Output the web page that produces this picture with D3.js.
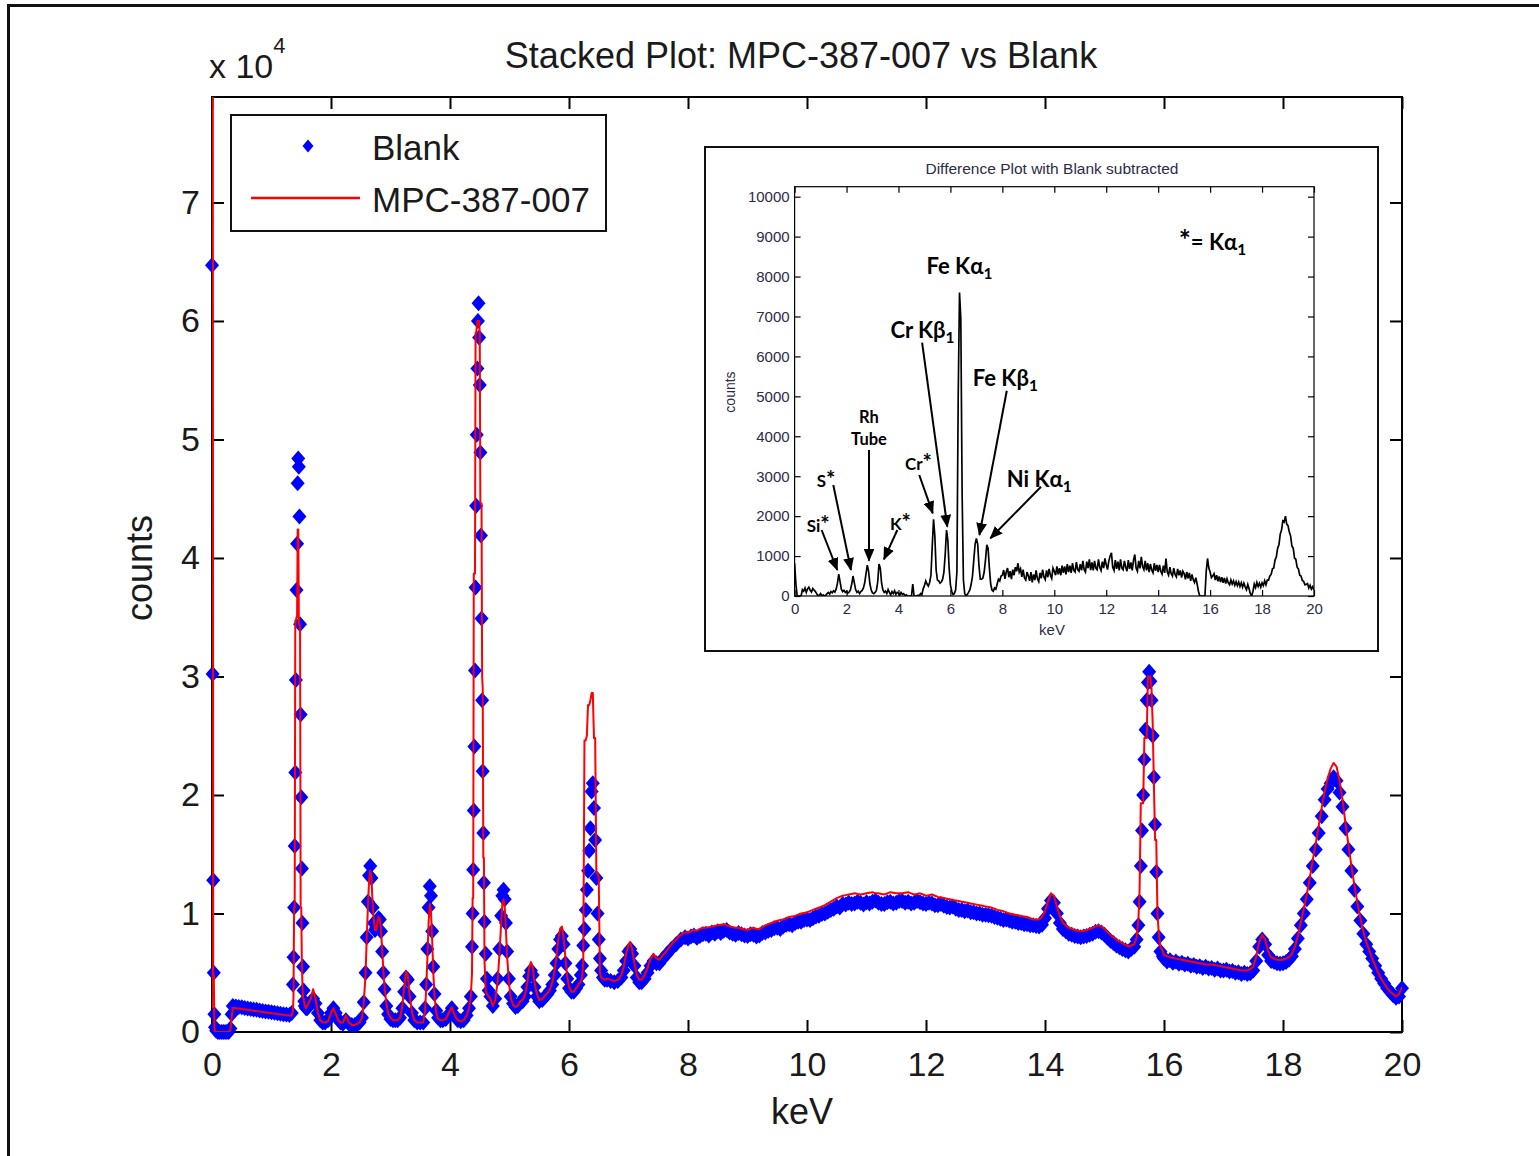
<!DOCTYPE html>
<html>
<head>
<meta charset="utf-8">
<script src="https://cdn.jsdelivr.net/npm/d3@7"></script>
<style>
  html, body { margin: 0; padding: 0; background: #fff; }
  svg { display: block; }
</style>
</head>
<body>
<svg id="chart" width="1539" height="1156"></svg>
<script>
// ---------------------------------------------------------------
// Main spectrum: energy (keV), blank counts, sample counts
// (non-uniform channel list: finer steps across the sharp lines)
// ---------------------------------------------------------------
const energyKeV = [
  0.00, 0.01, 0.02, 0.03, 0.04, 0.05, 0.07, 0.10, 0.13, 0.16, 0.19, 0.22, 0.25, 0.28, 0.31, 0.33,
  0.35, 0.40, 0.45, 0.50, 0.55, 0.60, 0.65, 0.70, 0.75, 0.80, 0.85, 0.90, 0.95, 1.00, 1.05, 1.10, 1.15, 1.20, 1.25, 1.30,
  1.34, 1.36, 1.37, 1.38, 1.39, 1.40, 1.41, 1.42, 1.43, 1.44, 1.45, 1.46, 1.47, 1.48, 1.49, 1.50, 1.51, 1.52, 1.53, 1.54, 1.55, 1.56, 1.58, 1.60,
  1.62, 1.66, 1.70, 1.74, 1.78, 1.82, 1.86, 1.90, 1.95, 2.00, 2.04, 2.08, 2.12, 2.16, 2.20, 2.25, 2.30, 2.35, 2.40, 2.45,
  2.48, 2.52, 2.55, 2.58, 2.60, 2.62, 2.64, 2.66, 2.68, 2.70, 2.72, 2.74, 2.76, 2.78, 2.80, 2.82, 2.84, 2.86, 2.88, 2.90, 2.93, 2.96, 3.00, 3.04, 3.08,
  3.12, 3.16, 3.20, 3.23, 3.26, 3.29, 3.32, 3.36, 3.40, 3.45, 3.50,
  3.55, 3.58, 3.60, 3.62, 3.64, 3.66, 3.68, 3.70, 3.72, 3.74, 3.77, 3.80, 3.84,
  3.88, 3.93, 3.98, 4.03, 4.08, 4.13, 4.18, 4.23, 4.28, 4.32,
  4.35, 4.37, 4.38, 4.39, 4.40, 4.41, 4.42, 4.43, 4.44, 4.45, 4.46, 4.47, 4.48, 4.49, 4.50, 4.51, 4.52, 4.53, 4.54, 4.55, 4.56, 4.57, 4.58, 4.60, 4.62, 4.65, 4.68,
  4.72, 4.76, 4.80, 4.83, 4.86, 4.88, 4.90, 4.92, 4.94, 4.96, 4.99, 5.02, 5.06, 5.10, 5.14, 5.18,
  5.22, 5.26, 5.30, 5.33, 5.36, 5.39, 5.42, 5.46, 5.50, 5.55, 5.60,
  5.64, 5.68, 5.72, 5.76, 5.79, 5.82, 5.85, 5.88, 5.91, 5.94, 5.97, 6.00, 6.04, 6.08, 6.12,
  6.16, 6.20, 6.22, 6.24, 6.26, 6.28, 6.30, 6.32, 6.34, 6.36, 6.38, 6.40, 6.42, 6.44, 6.46, 6.48, 6.50, 6.52, 6.54, 6.57, 6.60, 6.64,
  6.70, 6.76, 6.82, 6.88, 6.92, 6.96, 7.00, 7.03, 7.06, 7.10, 7.14, 7.18, 7.22, 7.27, 7.32, 7.37, 7.42, 7.47, 7.52, 7.58, 7.65, 7.72, 7.80, 7.88, 7.95,
  8.00, 8.05, 8.10, 8.15, 8.20, 8.25, 8.30, 8.35, 8.40, 8.45, 8.50, 8.55, 8.60, 8.65, 8.70, 8.75, 8.80, 8.85, 8.90, 8.95,
  9.00, 9.05, 9.10, 9.15, 9.20, 9.25, 9.30, 9.35, 9.40, 9.45, 9.50, 9.55, 9.60, 9.65, 9.70, 9.75, 9.80, 9.85, 9.90, 9.95,
  10.00, 10.05, 10.10, 10.15, 10.20, 10.25, 10.30, 10.35, 10.40, 10.45, 10.50, 10.55, 10.60, 10.65, 10.70, 10.75, 10.80, 10.85, 10.90, 10.95,
  11.00, 11.05, 11.10, 11.15, 11.20, 11.25, 11.30, 11.35, 11.40, 11.45, 11.50, 11.55, 11.60, 11.65, 11.70, 11.75, 11.80, 11.85, 11.90, 11.95,
  12.00, 12.05, 12.10, 12.15, 12.20, 12.25, 12.30, 12.35, 12.40, 12.45, 12.50, 12.55, 12.60, 12.65, 12.70, 12.75, 12.80, 12.85, 12.90, 12.95,
  13.00, 13.05, 13.10, 13.15, 13.20, 13.25, 13.30, 13.35, 13.40, 13.45, 13.50, 13.55, 13.60, 13.65, 13.70, 13.75, 13.80, 13.85, 13.90, 13.95,
  14.00, 14.05, 14.10, 14.15, 14.20, 14.25, 14.30, 14.35, 14.40, 14.45, 14.50, 14.55, 14.60, 14.65, 14.70, 14.75, 14.80, 14.85, 14.90, 14.95,
  15.00, 15.05, 15.10, 15.15, 15.20, 15.25, 15.30, 15.35, 15.40,
  15.45, 15.50, 15.54, 15.57, 15.59, 15.61, 15.63, 15.65, 15.67, 15.69, 15.71, 15.73, 15.75, 15.77, 15.79, 15.81, 15.83, 15.85, 15.87, 15.89, 15.91, 15.94, 15.98,
  16.00, 16.05, 16.10, 16.15, 16.20, 16.25, 16.30, 16.35, 16.40, 16.45, 16.50, 16.55, 16.60, 16.65, 16.70, 16.75, 16.80, 16.85, 16.90, 16.95,
  17.00, 17.05, 17.10, 17.15, 17.20, 17.25, 17.30, 17.35, 17.40, 17.45, 17.50, 17.55, 17.60, 17.65, 17.70, 17.75, 17.80, 17.85, 17.90, 17.95,
  18.00, 18.05, 18.10, 18.15, 18.20, 18.25, 18.30, 18.35, 18.40, 18.45, 18.50, 18.55, 18.60, 18.65, 18.70, 18.75, 18.80, 18.85, 18.90, 18.95,
  19.00, 19.05, 19.10, 19.15, 19.20, 19.25, 19.30, 19.35, 19.40, 19.45, 19.50, 19.55, 19.60, 19.65, 19.70, 19.75, 19.80, 19.85, 19.90, 19.95,
  20.00
];

const blankCounts = [
  64700, 30200, 12800, 5000, 1500, 400, 100, 0, 0, 0, 0, 0, 0, 0, 300, 1500,
  2200, 2150, 2120, 2080, 2030, 1990, 1950, 1900, 1870, 1820, 1780, 1740, 1700, 1660, 1620, 1580, 1540, 1500, 1470, 1440,
  1600, 4000, 6300, 10500, 15700, 21900, 29700, 37300, 41200, 46300, 48400, 47700, 43500, 34400, 26800, 19800, 13800, 9200, 5500, 3500, 2600, 2200, 2000, 2000,
  2200, 2500, 2800, 2400, 1600, 1000, 800, 800, 1000, 1600, 2000, 1600, 1100, 800, 700, 1000, 700, 600, 600, 700,
  800, 1200, 2500, 5000, 8000, 11000, 13200, 14000, 13000, 10500, 9200, 8600, 8800, 9300, 9600, 9500, 8500, 6800, 5000, 3600, 2200, 1500, 1100, 1000, 1000,
  1000, 1200, 2000, 3400, 4600, 4400, 3000, 1600, 1000, 800, 800,
  800, 2000, 4000, 7000, 10500, 12300, 11500, 8500, 5500, 3200, 1800, 1200, 1000,
  1000, 1100, 1500, 2000, 1400, 1000, 900, 1000, 1400, 2000,
  3000, 7200, 10000, 13700, 18700, 24100, 30500, 37500, 44400, 50400, 56000, 60000, 61500, 58600, 54600, 48900, 41900, 34900, 28000, 22000, 16800, 12600, 9300, 6600, 4500, 3500, 3000,
  2200, 2800, 4500, 7000, 9800, 11500, 12000, 11200, 9200, 6800, 4500, 3000, 2400, 2100, 2200, 2500,
  2600, 3000, 3800, 4700, 5200, 4800, 3800, 3000, 2600, 2700, 3000,
  3200, 3500, 4000, 4800, 5800, 7000, 7800, 8100, 7400, 5800, 4500, 3700, 3400, 3400, 3700,
  4000, 4800, 5600, 7300, 8700, 10300, 12000, 13600, 15300, 17200, 20300, 21000, 18900, 16200, 13000, 10000, 7800, 6200, 5200, 4600, 4400, 4400,
  4300, 4200, 4300, 4600, 5200, 6000, 6800, 7000, 6600, 5600, 4600, 4200, 4200, 4500, 5000, 5600, 6000, 5800, 5800, 6200, 6600, 7000, 7400, 7800, 8000,
  7900, 8050, 8150, 7950, 8100, 8250, 8300, 8150, 8400, 8300, 8500, 8350, 8550, 8600, 8400, 8300, 8200, 8350, 8250, 8150,
  8100, 8250, 8200, 8050, 8150, 8350, 8400, 8550, 8600, 8750, 8800, 8700, 8900, 9050, 9100, 9000, 9200, 9300, 9300, 9450,
  9500, 9450, 9600, 9750, 9800, 9950, 10000, 10150, 10300, 10400, 10600, 10500, 10800, 10750, 10900, 10800, 10850, 11000, 10900, 10750,
  10950, 10850, 11000, 11100, 10900, 10800, 10800, 10950, 11000, 10850, 10900, 11050, 11050, 10900, 11000, 10850, 10900, 11050, 10950, 10850,
  10800, 10900, 10850, 10700, 10700, 10800, 10650, 10550, 10500, 10600, 10400, 10300, 10300, 10200, 10250, 10100, 10100, 10000, 10000, 9900,
  9900, 9850, 9800, 9700, 9650, 9550, 9450, 9500, 9400, 9300, 9300, 9200, 9200, 9100, 9100, 9000, 9000, 8950, 8900, 9050,
  9600, 10400, 11100, 10900, 10000, 9200, 8700, 8500, 8300, 8200, 8100, 8050, 8000, 8050, 8100, 8200, 8300, 8450, 8500, 8400,
  8200, 7950, 7700, 7500, 7300, 7150, 7000, 6900, 6800,
  7000, 7200, 7800, 9000, 11000, 14000, 17000, 20000, 23000, 25500, 28000, 29500, 30400, 29600, 28000, 25000, 21500, 17500, 13500, 10000, 8000, 6800, 6400,
  6200, 5950, 6050, 5850, 5950, 5750, 5850, 5700, 5750, 5600, 5650, 5500, 5550, 5400, 5500, 5350, 5400, 5250, 5350, 5200,
  5200, 5250, 5100, 5150, 5000, 5050, 4900, 5000, 4900, 4950, 5200, 6000, 7200, 7800, 7400, 6500, 6000, 5900, 5800, 5750,
  5800, 5900, 6100, 6400, 7000, 7900, 9000, 10000, 11200, 12600, 14000, 15400, 16800, 18200, 19600, 20500, 21000, 21500, 21200, 20200,
  19000, 17200, 15400, 13600, 12000, 10600, 9400, 8300, 7400, 6800, 6200, 5600, 5000, 4500, 4100, 3700, 3400, 3100, 2900, 3000,
  3700
];

const sampleCounts = [
  2000, 120000, 5000, 4800, 400, 0, 0, 0, 0, 0, 0, 0, 0, 0, 200, 1200,
  2050, 2000, 1980, 1950, 1900, 1870, 1830, 1800, 1760, 1720, 1690, 1650, 1620, 1580, 1550, 1510, 1480, 1450, 1420, 1400,
  1400, 1800, 3000, 10500, 10500, 34700, 34700, 35000, 35000, 42400, 42400, 34400, 34400, 34000, 10500, 10500, 6000, 4000, 3000, 2800, 2500, 2200, 2000, 2200,
  2400, 2800, 3600, 2800, 1600, 1000, 800, 800, 900, 1600, 2000, 1500, 1000, 800, 800, 1400, 800, 600, 600, 700,
  800, 1200, 2400, 4800, 7800, 10500, 12800, 13600, 13000, 10800, 9400, 8600, 8600, 9200, 9700, 9600, 8600, 7000, 5200, 3800, 2400, 1600, 1200, 1000, 1000,
  1000, 1200, 2200, 3800, 5100, 4800, 3200, 1700, 1000, 800, 800,
  800, 1800, 3600, 6200, 9200, 10800, 10200, 7800, 5000, 3000, 1600, 1100, 1000,
  1000, 1100, 1600, 2100, 1400, 1000, 900, 1000, 1400, 2000,
  3000, 5000, 11300, 11300, 38700, 38700, 38700, 59000, 59000, 59500, 60000, 60000, 60000, 60000, 59000, 44600, 44600, 44600, 30000, 29000, 14700, 14700, 6000, 3500, 3200, 3000, 2800,
  2200, 2700, 4200, 6500, 9200, 10800, 11200, 10500, 8600, 6400, 4200, 2900, 2300, 2100, 2200, 2600,
  2700, 3100, 4200, 5400, 5900, 5500, 4200, 3200, 2700, 2800, 3100,
  3300, 3600, 4200, 5200, 6400, 7800, 8700, 8900, 8000, 6200, 4700, 3800, 3400, 3400, 3700,
  4000, 4300, 4500, 6000, 24600, 24600, 25000, 27600, 27600, 28000, 28600, 28600, 24800, 24800, 13400, 13400, 13000, 5000, 4600, 4500, 4400, 4500,
  4400, 4300, 4400, 4800, 5500, 6600, 7400, 7600, 7000, 5800, 4800, 4400, 4400, 4800, 5400, 6200, 6600, 6200, 6100, 6500, 6900, 7400, 7800, 8200, 8400,
  8400, 8500, 8600, 8550, 8700, 8800, 8800, 8850, 8900, 8950, 9000, 9050, 9100, 9000, 8900, 8850, 8800, 8800, 8700, 8650,
  8600, 8700, 8800, 8700, 8700, 8850, 9000, 9100, 9200, 9300, 9400, 9450, 9500, 9600, 9700, 9750, 9800, 9900, 10000, 10050,
  10100, 10200, 10300, 10400, 10500, 10600, 10700, 10850, 11000, 11150, 11300, 11400, 11500, 11550, 11600, 11650, 11700, 11650, 11600, 11650,
  11700, 11750, 11800, 11700, 11700, 11650, 11600, 11700, 11800, 11750, 11700, 11700, 11700, 11750, 11800, 11700, 11600, 11650, 11700, 11600,
  11500, 11550, 11600, 11500, 11400, 11350, 11300, 11250, 11200, 11150, 11100, 11050, 11000, 10950, 10900, 10850, 10800, 10750, 10700, 10650,
  10600, 10550, 10500, 10400, 10300, 10250, 10200, 10100, 10000, 9950, 9900, 9850, 9800, 9750, 9700, 9600, 9500, 9500, 9500, 9700,
  10200, 11000, 11700, 11500, 10600, 9800, 9200, 9000, 8800, 8700, 8600, 8550, 8500, 8550, 8600, 8700, 8800, 8900, 9000, 8900,
  8700, 8450, 8200, 8000, 7800, 7650, 7500, 7350, 7200,
  7300, 7400, 8000, 9500, 12000, 19300, 19300, 19300, 24800, 24800, 24800, 30000, 30000, 30000, 29000, 26000, 21000, 16200, 16200, 10000, 8500, 7200, 6800,
  6500, 6400, 6300, 6250, 6200, 6150, 6100, 6050, 6000, 5950, 5900, 5850, 5800, 5750, 5700, 5700, 5700, 5650, 5600, 5550,
  5500, 5450, 5400, 5350, 5300, 5250, 5200, 5200, 5200, 5300, 5500, 6400, 7600, 8200, 7800, 6800, 6300, 6200, 6100, 6100,
  6100, 6200, 6300, 6600, 7200, 8100, 9300, 10400, 11600, 13000, 14500, 15900, 17400, 18900, 20300, 21400, 22200, 22700, 22400, 21200,
  19600, 17600, 15800, 14000, 12400, 10900, 9600, 8500, 7600, 6900, 6200, 5600, 5000, 4500, 4100, 3700, 3400, 3200, 3000, 3200,
  3800
];

// Main axis ticks
const xTickValues = [0, 2, 4, 6, 8, 10, 12, 14, 16, 18, 20];
const xTickLabels = ["0", "2", "4", "6", "8", "10", "12", "14", "16", "18", "20"];
const yTickValues = [0, 10000, 20000, 30000, 40000, 50000, 60000, 70000];
const yTickLabels = ["0", "1", "2", "3", "4", "5", "6", "7"];
const yMaxCounts = 78900;

// ---------------------------------------------------------------
// Difference spectrum (sample minus blank), 0.05 keV channels
// ---------------------------------------------------------------
const diffStartKeV = 0;
const diffStepKeV = 0.05;
const diffCounts = [
  820, 300, 0, 0, 0, 0, 160, 120, 200, 90, 180, 220, 140, 100, 190, 150, 110, 60, 0, 20,
  60, 0, 30, 0, 20, 60, 90, 50, 110, 80, 130, 100, 170, 320, 550, 360, 170, 110, 140, 90,
  120, 70, 100, 150, 300, 500, 330, 160, 90, 120, 60, 110, 140, 200, 330, 560, 770, 610, 300, 150,
  80, 60, 90, 140, 350, 800, 700, 320, 150, 90, 120, 60, 160, 90, 30, 110, 60, 130, 40, 90,
  70, 20, 90, 40, 60, 10, 30, 0, 0, 0, 0, 300, 0, 0, 0, 20, 0, 60, 30, 180,
  260, 380, 300, 250, 340, 520, 1250, 1920, 1500, 650, 400, 380, 320, 350, 420, 600, 1050, 1650, 1400, 700,
  280, 120, 40, 60, 150, 600, 5000, 7600, 6950, 2600, 400, 60, 0, 40, 90, 160, 300, 500, 900, 1300,
  1440, 1300, 750, 420, 420, 450, 600, 900, 1280, 1200, 700, 300, 150, 120, 200, 170, 300, 420, 380, 500,
  520, 650, 430, 600, 700, 470, 620, 420, 660, 520, 720, 620, 820, 600, 680, 480, 660, 450, 400, 600,
  500, 380, 600, 340, 540, 400, 640, 430, 360, 580, 440, 660, 480, 410, 640, 470, 680, 520, 440, 700,
  620, 520, 740, 540, 700, 520, 760, 580, 740, 540, 800, 600, 760, 580, 820, 640, 600, 850, 660, 620,
  800, 640, 880, 660, 600, 860, 700, 920, 650, 840, 640, 880, 700, 660, 920, 720, 640, 860, 700, 940,
  780, 660, 880, 1000, 1080, 720, 640, 900, 680, 860, 640, 920, 700, 660, 880, 720, 620, 900, 680, 840,
  640, 900, 1040, 700, 620, 880, 690, 980, 740, 660, 880, 640, 820, 600, 800, 650, 580, 820, 630, 780,
  600, 780, 620, 550, 760, 580, 940, 600, 520, 720, 560, 500, 700, 540, 480, 680, 520, 640, 460, 620,
  560, 420, 600, 440, 580, 380, 540, 410, 340, 460, 300, 120, 0, 0, 0, 0, 0, 620, 940, 700,
  600, 460, 500, 560, 400, 520, 370, 490, 350, 470, 330, 450, 310, 430, 330, 280, 400, 300, 380, 270,
  360, 260, 350, 240, 330, 220, 320, 230, 160, 290, 180, 60, 0, 120, 300, 210, 340, 240, 320, 220,
  330, 260, 380, 280, 400, 400, 500, 540, 680, 700, 900, 980, 1200, 1280, 1550, 1650, 1880, 1850, 2000, 1800,
  1760, 1600, 1500, 1250, 1200, 950, 920, 720, 680, 520, 500, 390, 370, 280, 290, 310, 200, 270, 170, 230,
  150
];

const insetXTickValues = [0, 2, 4, 6, 8, 10, 12, 14, 16, 18, 20];
const insetYTickValues = [0, 1000, 2000, 3000, 4000, 5000, 6000, 7000, 8000, 9000, 10000];
const insetYMax = 10250;

// Line labels on the difference plot: [text, subscript, keV, counts, size, anchor]
const peakLabels = [
  ["Fe K\u03B1", "1", 5.08, 8064, 22, "start"],
  ["Cr K\u03B2", "1", 3.69, 6461, 22, "start"],
  ["Fe K\u03B2", "1", 6.86, 5259, 22, "start"],
  ["Ni K\u03B1", "1", 8.17, 2730, 22, "start"],
  ["*= K\u03B1", "1", 14.79, 8665, 22, "start"],
  ["Rh", "", 2.865, 4332, 16.5, "middle"],
  ["Tube", "", 2.865, 3781, 16.5, "middle"],
  ["S*", "", 0.85, 2730, 17, "start"],
  ["Si*", "", 0.466, 1603, 17, "start"],
  ["Cr*", "", 4.25, 3155, 17, "start"],
  ["K*", "", 3.67, 1653, 17, "start"]
];
// Arrows: [fromKeV, fromCounts, toKeV, toCounts]
const peakArrows = [
  [1.04, 1653, 1.644, 651],
  [1.49, 2780, 2.17, 651],
  [2.865, 3656, 2.865, 884],
  [3.955, 1653, 3.44, 919],
  [4.80, 3030, 5.32, 2071],
  [4.91, 6343, 5.88, 1735],
  [8.17, 5141, 7.116, 1528],
  [9.49, 2737, 7.54, 1445]
];

// ---------------------------------------------------------------
const svg = d3.select("#chart");
const FONT = "'Liberation Sans', Arial, Helvetica, sans-serif";
const INK = "#1a1a1a";

svg.append("rect").attr("width", 1539).attr("height", 1156).attr("fill", "#fff");

// outer frame (runs off the right and bottom edges)
svg.append("path")
  .attr("d", "M8.5,1170V5.5H1560")
  .attr("fill", "none").attr("stroke", "#111").attr("stroke-width", 3);

const plot = { left: 212, right: 1402, top: 97, bottom: 1032 };
const x = d3.scaleLinear().domain([0, 20]).range([plot.left, plot.right]);
const y = d3.scaleLinear().domain([0, yMaxCounts]).range([plot.bottom, plot.top]);

function styleAxis(g, size, color) {
  g.attr("font-family", null).attr("font-size", null);
  g.select(".domain").remove();
  g.selectAll(".tick line").attr("stroke", "#000").attr("stroke-width", 2);
  g.selectAll(".tick text")
    .attr("font-family", FONT).attr("font-size", size).attr("fill", color);
}

svg.append("g").attr("transform", `translate(0,${plot.bottom})`)
  .call(d3.axisBottom(x).tickValues(xTickValues).tickFormat((d, i) => xTickLabels[i])
    .tickSize(-12).tickSizeOuter(0).tickPadding(20))
  .call(g => styleAxis(g, 34, INK));
svg.append("g").attr("transform", `translate(0,${plot.top})`)
  .call(d3.axisTop(x).tickValues(xTickValues).tickFormat("").tickSize(-12).tickSizeOuter(0))
  .call(g => styleAxis(g, 34, INK));
svg.append("g").attr("transform", `translate(${plot.left},0)`)
  .call(d3.axisLeft(y).tickValues(yTickValues).tickFormat((d, i) => yTickLabels[i])
    .tickSize(-12).tickSizeOuter(0).tickPadding(12))
  .call(g => styleAxis(g, 34, INK));
svg.append("g").attr("transform", `translate(${plot.right},0)`)
  .call(d3.axisRight(y).tickValues(yTickValues).tickFormat("").tickSize(-12).tickSizeOuter(0))
  .call(g => styleAxis(g, 34, INK));

svg.append("rect")
  .attr("x", plot.left).attr("y", plot.top)
  .attr("width", plot.right - plot.left).attr("height", plot.bottom - plot.top)
  .attr("fill", "none").attr("stroke", "#000").attr("stroke-width", 2);

// clip for the sample trace
const defs = svg.append("defs");
defs.append("clipPath").attr("id", "mainClip").append("rect")
  .attr("x", plot.left).attr("y", plot.top)
  .attr("width", plot.right - plot.left).attr("height", plot.bottom - plot.top);

const n = Math.min(energyKeV.length, blankCounts.length, sampleCounts.length);
const idx = d3.range(n);

// Blank: diamond markers
const diamond = "M0,-8L7,0L0,8L-7,0Z";
svg.append("g").attr("class", "blank")
  .selectAll("path")
  .data(idx.filter(i => blankCounts[i] >= 0 && blankCounts[i] <= yMaxCounts))
  .join("path")
  .attr("d", diamond)
  .attr("transform", i => `translate(${x(energyKeV[i])},${y(blankCounts[i])})`)
  .attr("fill", "#0000ff");

// Sample: red trace
const sampleLine = d3.line().x(i => x(energyKeV[i])).y(i => y(sampleCounts[i]));
svg.append("path")
  .attr("clip-path", "url(#mainClip)")
  .attr("d", sampleLine(idx))
  .attr("fill", "none").attr("stroke", "#ff0000").attr("stroke-width", 2)
  .attr("stroke-linejoin", "round");

// Titles and axis labels
svg.append("text").attr("x", 801).attr("y", 68).attr("text-anchor", "middle")
  .attr("font-family", FONT).attr("font-size", 36).attr("fill", INK)
  .text("Stacked Plot: MPC-387-007 vs Blank");
svg.append("text").attr("x", 802).attr("y", 1124).attr("text-anchor", "middle")
  .attr("font-family", FONT).attr("font-size", 36).attr("fill", INK).text("keV");
svg.append("text").attr("transform", "translate(152,568) rotate(-90)").attr("text-anchor", "middle")
  .attr("font-family", FONT).attr("font-size", 36).attr("fill", INK).text("counts");
const expo = svg.append("text").attr("x", 209).attr("y", 78)
  .attr("font-family", FONT).attr("font-size", 34).attr("fill", INK);
expo.append("tspan").text("x 10");
expo.append("tspan").attr("dy", -25).attr("font-size", 22).text("4");

// Legend
const legend = svg.append("g");
legend.append("rect").attr("x", 231).attr("y", 115).attr("width", 375).attr("height", 116)
  .attr("fill", "#fff").attr("stroke", "#111").attr("stroke-width", 2);
legend.append("path").attr("d", "M0,-6.5L5.5,0L0,6.5L-5.5,0Z").attr("transform", "translate(308,146)").attr("fill", "#0000ff");
legend.append("line").attr("x1", 251).attr("x2", 360).attr("y1", 198).attr("y2", 198)
  .attr("stroke", "#ff0000").attr("stroke-width", 2.5);
legend.append("text").attr("x", 372).attr("y", 160).attr("font-family", FONT)
  .attr("font-size", 35).attr("fill", INK).text("Blank");
legend.append("text").attr("x", 372).attr("y", 212).attr("font-family", FONT)
  .attr("font-size", 35).attr("fill", INK).text("MPC-387-007");

// ---------------------------------------------------------------
// Inset: difference plot
// ---------------------------------------------------------------
const inset = svg.append("g");
inset.append("rect").attr("x", 705).attr("y", 147).attr("width", 673).attr("height", 504)
  .attr("fill", "#fff").attr("stroke", "#111").attr("stroke-width", 2);

const ip = { left: 794.6, right: 1314, top: 186.7, bottom: 596 };
const xi = d3.scaleLinear().domain([0, 20]).range([ip.left, ip.right]);
const yi = d3.scaleLinear().domain([0, insetYMax]).range([ip.bottom, ip.top]);
const INSET_INK = "#2b2b4a";

function styleInsetAxis(g) {
  g.attr("font-family", null).attr("font-size", null);
  g.select(".domain").remove();
  g.selectAll(".tick line").attr("stroke", "#000").attr("stroke-width", 1.2);
  g.selectAll(".tick text").attr("font-family", FONT).attr("font-size", 15).attr("fill", INSET_INK);
}
inset.append("g").attr("transform", `translate(0,${ip.bottom})`)
  .call(d3.axisBottom(xi).tickValues(insetXTickValues).tickSize(-6).tickSizeOuter(0).tickPadding(7))
  .call(styleInsetAxis);
inset.append("g").attr("transform", `translate(0,${ip.top})`)
  .call(d3.axisTop(xi).tickValues(insetXTickValues).tickFormat("").tickSize(-6).tickSizeOuter(0))
  .call(styleInsetAxis);
inset.append("g").attr("transform", `translate(${ip.left},0)`)
  .call(d3.axisLeft(yi).tickValues(insetYTickValues).tickFormat(d3.format("d")).tickSize(-6).tickSizeOuter(0).tickPadding(5))
  .call(styleInsetAxis);
inset.append("g").attr("transform", `translate(${ip.right},0)`)
  .call(d3.axisRight(yi).tickValues(insetYTickValues).tickFormat("").tickSize(-6).tickSizeOuter(0))
  .call(styleInsetAxis);
inset.append("rect").attr("x", ip.left).attr("y", ip.top)
  .attr("width", ip.right - ip.left).attr("height", ip.bottom - ip.top)
  .attr("fill", "none").attr("stroke", "#000").attr("stroke-width", 1.2);

defs.append("clipPath").attr("id", "insetClip").append("rect")
  .attr("x", ip.left).attr("y", ip.top)
  .attr("width", ip.right - ip.left).attr("height", ip.bottom - ip.top);

const diffLine = d3.line()
  .x((d, i) => xi(diffStartKeV + i * diffStepKeV))
  .y(d => yi(d));
inset.append("path").attr("clip-path", "url(#insetClip)")
  .attr("d", diffLine(diffCounts))
  .attr("fill", "none").attr("stroke", "#000").attr("stroke-width", 1.7)
  .attr("stroke-linejoin", "miter");

inset.append("text").attr("x", 1052).attr("y", 174).attr("text-anchor", "middle")
  .attr("font-family", FONT).attr("font-size", 15.5).attr("fill", INSET_INK)
  .text("Difference Plot with Blank subtracted");
inset.append("text").attr("x", 1052).attr("y", 635).attr("text-anchor", "middle")
  .attr("font-family", FONT).attr("font-size", 15).attr("fill", INSET_INK).text("keV");
inset.append("text").attr("transform", "translate(735,392) rotate(-90)").attr("text-anchor", "middle")
  .attr("font-family", FONT).attr("font-size", 14).attr("fill", INSET_INK).text("counts");

// arrows
defs.append("marker").attr("id", "arrowHead")
  .attr("viewBox", "0 0 12 10").attr("refX", 11).attr("refY", 5)
  .attr("markerWidth", 13).attr("markerHeight", 11)
  .attr("markerUnits", "userSpaceOnUse").attr("orient", "auto")
  .append("path").attr("d", "M0,0L12,5L0,10Z").attr("fill", "#000");

inset.append("g").selectAll("line").data(peakArrows).join("line")
  .attr("x1", d => xi(d[0])).attr("y1", d => yi(d[1]))
  .attr("x2", d => xi(d[2])).attr("y2", d => yi(d[3]))
  .attr("stroke", "#000").attr("stroke-width", 2)
  .attr("marker-end", "url(#arrowHead)");

const LABEL_FONT = "Lato, 'Noto Sans', 'Open Sans', sans-serif";
inset.append("g").selectAll("text").data(peakLabels).join("text")
  .attr("x", d => xi(d[2])).attr("y", d => yi(d[3]))
  .attr("text-anchor", d => d[5])
  .attr("font-family", LABEL_FONT).attr("font-weight", 700)
  .attr("font-size", d => d[4]).attr("fill", "#000")
  .each(function (d) {
    const t = d3.select(this);
    // the asterisk that marks K-alpha lines is set a little larger
    d[0].split(/(\*)/).filter(s => s.length).forEach(s => {
      t.append("tspan").attr("font-size", s === "*" ? d[4] * 1.3 : d[4]).text(s);
    });
    if (d[1]) t.append("tspan").attr("dy", 5).attr("font-size", d[4] * 0.7).text(d[1]);
  });
</script>
</body>
</html>
